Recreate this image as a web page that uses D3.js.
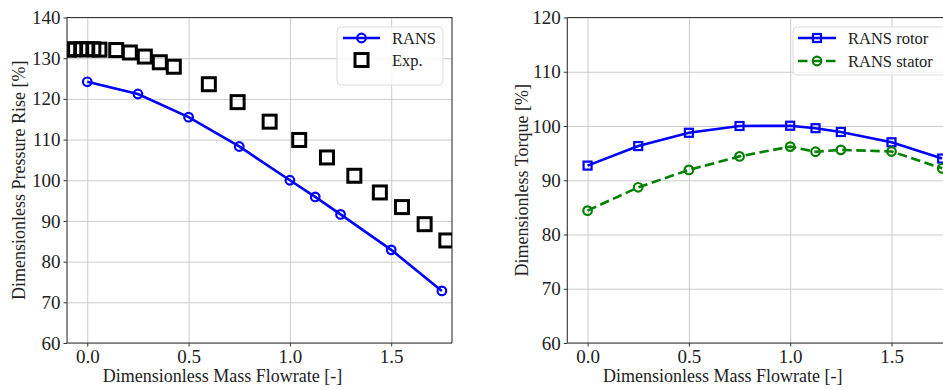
<!DOCTYPE html>
<html>
<head>
<meta charset="UTF-8">
<script src="https://cdn.jsdelivr.net/npm/d3@7"></script>
<style>
    body { margin: 0; background: #fff; }
    svg { display: block; }
    svg text { font-family: 'Liberation Serif' !important; }
    .tick line { stroke: #333; }
    .domain { stroke: #333; stroke-width: 1.1; }
    .grid line { stroke: #cbcbcb; stroke-width: 1; }
    .grid .domain { display: none; }
</style>
</head>
<body>
<svg width="943" height="390" style="font-family:'Liberation Serif'"></svg>
<script>
// flowrate points for the simulations
var ransX = [0, 0.25, 0.5, 0.75, 1.0, 1.125, 1.25, 1.5, 1.75];
var ransPressure = [124.2, 121.2, 115.5, 108.3, 100.0, 95.9, 91.6, 82.9, 72.8];

// experiment
var expX = [-0.09, -0.06, -0.03, 0.0, 0.03, 0.06, 0.143, 0.21, 0.284, 0.358, 0.427,
            0.6, 0.742, 0.9, 1.046, 1.183, 1.318, 1.444, 1.553, 1.665, 1.772];
var expPressure = [132.1, 132.2, 132.2, 132.2, 132.2, 132.1, 132.0, 131.4, 130.4, 129.0, 127.9,
                   123.6, 119.2, 114.4, 109.9, 105.6, 101.1, 97.0, 93.4, 89.2, 85.2];

// torque
var rotorTorque = [92.7, 96.3, 98.75, 100.0, 100.05, 99.6, 98.9, 97.0, 94.0];
var statorTorque = [84.4, 88.7, 91.9, 94.4, 96.2, 95.25, 95.6, 95.3, 92.2];

var xTicks = [0.0, 0.5, 1.0, 1.5];
var pressureTicks = [60, 70, 80, 90, 100, 110, 120, 130, 140];
var torqueTicks = [60, 70, 80, 90, 100, 110, 120];

var textColor = "#222";

var svg = d3.select("svg");
var plotTop = 17.5, plotBottom = 343, plotW = 385;

function serifText(sel, size) {
    sel.style("font-family", "'Liberation Serif'").style("font-size", size + "px").attr("fill", textColor);
}

function styleTicks(g) {
    g.attr("font-family", null);
    g.selectAll(".tick text").call(serifText, 19);
}

function makeAxes(left, yDomain, yTicks, id, yLabel, labelX) {
    var x = d3.scaleLinear().domain([-0.1, 1.8]).range([left, left + plotW]);
    var y = d3.scaleLinear().domain(yDomain).range([plotBottom, plotTop]);
    var h = plotBottom - plotTop;

    svg.append("clipPath").attr("id", id)
        .append("rect")
        .attr("x", left).attr("y", plotTop)
        .attr("width", plotW).attr("height", h);

    // grid
    svg.append("g").attr("class", "grid")
        .attr("transform", "translate(0," + plotBottom + ")")
        .call(d3.axisBottom(x).tickValues(xTicks).tickSize(-h).tickFormat(""));
    svg.append("g").attr("class", "grid")
        .attr("transform", "translate(" + left + ",0)")
        .call(d3.axisLeft(y).tickValues(yTicks).tickSize(-plotW).tickFormat(""));

    // axes
    svg.append("g")
        .attr("transform", "translate(0," + plotBottom + ")")
        .call(d3.axisBottom(x).tickValues(xTicks).tickSize(3.5).tickPadding(3).tickFormat(d3.format(".1f")))
        .call(styleTicks)
        .call(function(g) { g.select(".domain").attr("d", "M" + left + ",0H" + (left + plotW)); });
    svg.append("g")
        .attr("transform", "translate(" + left + ",0)")
        .call(d3.axisLeft(y).tickValues(yTicks).tickSize(3.5).tickPadding(3).tickFormat(d3.format("d")))
        .call(styleTicks)
        .call(function(g) { g.select(".domain").attr("d", "M0," + plotTop + "V" + plotBottom); });

    // top and right spines
    svg.append("path")
        .attr("d", "M" + left + "," + plotTop + "H" + (left + plotW) + "V" + plotBottom)
        .attr("fill", "none").attr("stroke", "#333").attr("stroke-width", 1.1);

    svg.append("text")
        .attr("x", left + plotW * 0.404).attr("y", 382)
        .attr("text-anchor", "middle")
        .call(serifText, 18)
        .text("Dimensionless Mass Flowrate [-]");
    svg.append("text")
        .attr("transform", "translate(" + labelX + "," + ((plotTop + plotBottom) / 2) + ") rotate(-90)")
        .attr("text-anchor", "middle")
        .call(serifText, 18)
        .text(yLabel);

    var plot = svg.append("g").attr("clip-path", "url(#" + id + ")");
    return { x: x, y: y, plot: plot };
}

function legendText(g, x, y, s) {
    g.append("text").attr("x", x).attr("y", y).call(serifText, 16.5).text(s);
}

// ---- left: pressure rise
var a = makeAxes(67, [60, 140], pressureTicks, "clipL", "Dimensionless Pressure Rise [%]", 25);

var line = d3.line()
    .x(function(d, i) { return a.x(ransX[i]); })
    .y(function(d) { return a.y(d); });

a.plot.append("path").datum(ransPressure)
    .attr("d", line)
    .attr("fill", "none").attr("stroke", "#0000ff").attr("stroke-width", 2.6);
a.plot.selectAll(".rans").data(ransPressure).enter().append("circle")
    .attr("cx", function(d, i) { return a.x(ransX[i]); })
    .attr("cy", function(d) { return a.y(d); })
    .attr("r", 4.3)
    .attr("fill", "none").attr("stroke", "#0000ff").attr("stroke-width", 2.2);
a.plot.selectAll(".exp").data(expPressure).enter().append("rect")
    .attr("x", function(d, i) { return a.x(expX[i]) - 6.5; })
    .attr("y", function(d) { return a.y(d) - 6.5; })
    .attr("width", 13).attr("height", 13)
    .attr("fill", "none").attr("stroke", "#000").attr("stroke-width", 3);

// legend left
var lg = svg.append("g");
lg.append("rect").attr("x", 337).attr("y", 27).attr("width", 106).attr("height", 58)
    .attr("rx", 4).attr("fill", "#fff").attr("fill-opacity", 0.8)
    .attr("stroke", "#dcdcdc");
lg.append("line").attr("x1", 343).attr("x2", 380).attr("y1", 38).attr("y2", 38)
    .attr("stroke", "#0000ff").attr("stroke-width", 2.6);
lg.append("circle").attr("cx", 361.5).attr("cy", 38).attr("r", 4.3)
    .attr("fill", "none").attr("stroke", "#0000ff").attr("stroke-width", 2.2);
legendText(lg, 392, 44, "RANS");
lg.append("rect").attr("x", 355).attr("y", 53.5).attr("width", 13).attr("height", 13)
    .attr("fill", "none").attr("stroke", "#000").attr("stroke-width", 3);
legendText(lg, 392, 66, "Exp.");

// ---- right: torque
var b = makeAxes(567.3, [60, 120], torqueTicks, "clipR", "Dimensionless Torque [%]", 528);

var tline = function(vals) {
    return d3.line()
        .x(function(d, i) { return b.x(ransX[i]); })
        .y(function(d) { return b.y(d); })(vals);
};

b.plot.append("path").attr("d", tline(rotorTorque))
    .attr("fill", "none").attr("stroke", "#0000ff").attr("stroke-width", 2.6);
b.plot.selectAll(".rotor").data(rotorTorque).enter().append("rect")
    .attr("x", function(d, i) { return b.x(ransX[i]) - 4; })
    .attr("y", function(d) { return b.y(d) - 4; })
    .attr("width", 8).attr("height", 8)
    .attr("fill", "none").attr("stroke", "#0000ff").attr("stroke-width", 2.2);

b.plot.append("path").attr("d", tline(statorTorque))
    .attr("fill", "none").attr("stroke", "#008000").attr("stroke-width", 2.6)
    .attr("stroke-dasharray", "9.5,4.5");
b.plot.selectAll(".stator").data(statorTorque).enter().append("circle")
    .attr("cx", function(d, i) { return b.x(ransX[i]); })
    .attr("cy", function(d) { return b.y(d); })
    .attr("r", 4.3)
    .attr("fill", "none").attr("stroke", "#008000").attr("stroke-width", 2.2);

// legend right
var rg = svg.append("g");
rg.append("rect").attr("x", 793).attr("y", 27).attr("width", 170).attr("height", 48)
    .attr("rx", 4).attr("fill", "#fff").attr("fill-opacity", 0.8)
    .attr("stroke", "#dcdcdc");
rg.append("line").attr("x1", 798).attr("x2", 836).attr("y1", 38).attr("y2", 38)
    .attr("stroke", "#0000ff").attr("stroke-width", 2.6);
rg.append("rect").attr("x", 813).attr("y", 34).attr("width", 8).attr("height", 8)
    .attr("fill", "none").attr("stroke", "#0000ff").attr("stroke-width", 2.2);
legendText(rg, 848, 44, "RANS rotor");
rg.append("line").attr("x1", 798).attr("x2", 836).attr("y1", 61).attr("y2", 61)
    .attr("stroke", "#008000").attr("stroke-width", 2.6).attr("stroke-dasharray", "9.5,4.5");
rg.append("circle").attr("cx", 817).attr("cy", 61).attr("r", 4.3)
    .attr("fill", "none").attr("stroke", "#008000").attr("stroke-width", 2.2);
legendText(rg, 848, 67, "RANS stator");
</script>
</body>
</html>
